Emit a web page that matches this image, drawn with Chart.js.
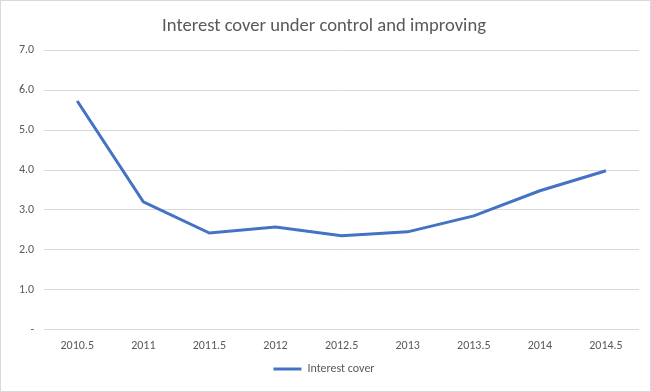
<!DOCTYPE html>
<html><head><meta charset="utf-8">
<script src="https://cdn.jsdelivr.net/npm/chart.js@4"></script>
<style>
html,body{margin:0;padding:0;background:#fff;}
#wrap{position:absolute;left:0;top:0;width:649px;height:390px;border:1px solid #d9d9d9;}
</style></head>
<body><div id="wrap"><canvas id="c" width="649" height="390"></canvas></div>
<script>
const categories = ["2010.5","2011","2011.5","2012","2012.5","2013","2013.5","2014","2014.5"];
const interestCover = [5.73, 3.2, 2.42, 2.57, 2.35, 2.45, 2.85, 3.48, 3.98];
const seriesName = "Interest cover";
const titleText = "Interest cover under control and improving";
const FONT = 'Carlito, Calibri, "Open Sans", sans-serif';

new Chart(document.getElementById('c'), {
  type: 'line',
  data: {
    labels: categories,
    datasets: [{
      label: seriesName,
      data: interestCover,
      borderColor: '#4472C4',
      backgroundColor: '#4472C4',
      borderWidth: 3,
      pointRadius: 0,
      tension: 0,
      fill: false
    }]
  },
  options: {
    responsive: false,
    animation: false,
    layout: { padding: { left: 8, right: 11, top: 6, bottom: 6 } },
    plugins: {
      title: {
        display: true, text: titleText, color: '#595959',
        font: { family: FONT, size: 18.6, weight: 'normal' },
        padding: { top: 8, bottom: 13 }
      },
      legend: {
        position: 'bottom',
        labels: {
          color: '#595959',
          font: { family: FONT, size: 12 },
          usePointStyle: true, pointStyle: 'line', pointStyleWidth: 28, boxHeight: 3,
          padding: 9
        }
      },
      tooltip: { enabled: false }
    },
    scales: {
      x: {
        offset: true,
        grid: { display: false },
        border: { display: false },
        ticks: { color: '#595959', font: { family: FONT, size: 12 }, padding: 1, maxRotation: 0 }
      },
      y: {
        min: 0, max: 7,
        grid: { color: '#d9d9d9', drawTicks: false },
        border: { display: false },
        ticks: {
          stepSize: 1, color: '#595959', padding: 10,
          font: { family: FONT, size: 12 },
          callback: v => v === 0 ? '-' : v.toFixed(1)
        }
      }
    }
  }
});
</script></body></html>
